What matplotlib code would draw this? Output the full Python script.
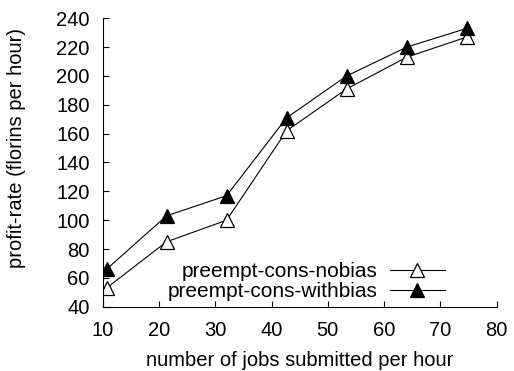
import matplotlib
matplotlib.use("Agg")
import matplotlib.pyplot as plt

plt.rcParams['font.family'] = ['Liberation Sans', 'DejaVu Sans']
plt.rcParams['font.size'] = 14.5

# jobs submitted per hour
jobs = [10.67, 21.33, 32.0, 42.67, 53.33, 64.0, 74.67]
nobias = [53, 85, 100, 162, 191, 213, 227]
withbias = [66, 103, 117, 171, 200, 220, 233]

xticks = [10, 20, 30, 40, 50, 60, 70, 80]
yticks = [40, 60, 80, 100, 120, 140, 160, 180, 200, 220, 240]

fig = plt.figure(figsize=(5.14, 3.71), dpi=100)
ax = fig.add_axes([0.2, 0.1733, 0.7663, 0.7774])

ax.plot(jobs, nobias, color='black', lw=0.8, marker='^', ms=9.5,
        mfc='white', mec='black', mew=0.9, label='preempt-cons-nobias')
ax.plot(jobs, withbias, color='black', lw=0.8, marker='^', ms=9.5,
        mfc='black', mec='black', mew=0.9, label='preempt-cons-withbias')

ax.set_xlim(10, 80)
ax.set_ylim(40, 240)
ax.set_xticks(xticks)
ax.set_yticks(yticks)
ax.tick_params(direction='in', length=4, width=0.8)
ax.tick_params(axis='x', pad=10.5)
ax.tick_params(axis='y', pad=9.5)
for s in ['top', 'right']:
    ax.spines[s].set_visible(False)
for s in ['left', 'bottom']:
    ax.spines[s].set_linewidth(0.8)

ax.set_xlabel('number of jobs submitted per hour', labelpad=8)
ax.set_ylabel('profit-rate (florins per hour)')
ax.yaxis.set_label_coords(-0.195, 0.5486)

ax.legend(loc='upper right', bbox_to_anchor=(445 / 514, 1 - 262 / 371),
          bbox_transform=fig.transFigure, frameon=False, markerfirst=False,
          fontsize=15, handlelength=2.65, handletextpad=0.6, labelspacing=0.07,
          borderpad=0, borderaxespad=0)

fig.savefig('out.png', dpi=100)
